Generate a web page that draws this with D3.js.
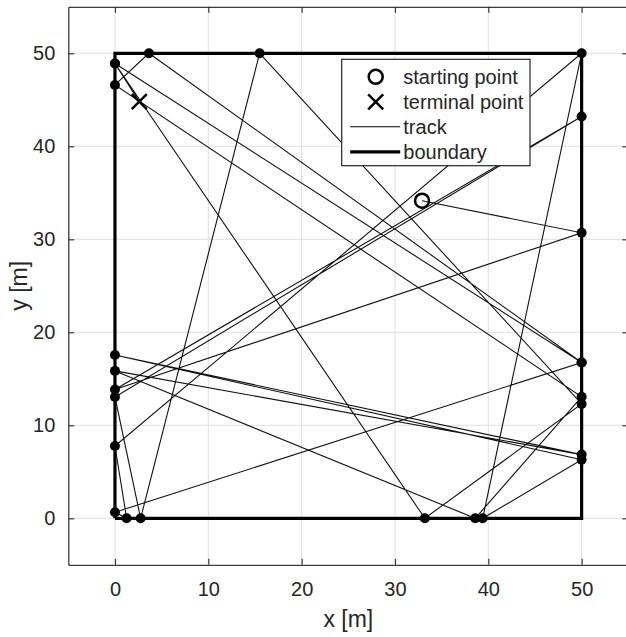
<!DOCTYPE html>
<html>
<head>
<meta charset="utf-8">
<script src="https://cdn.jsdelivr.net/npm/d3@7"></script>
<style>
    body { margin: 0; background: #fff; }
    text { font-family: "Liberation Sans", Arial, Helvetica, sans-serif; fill: #262626; }
</style>
</head>
<body>
<div id="chart"></div>
<script>
(function () {
    var width = 626,
        height = 637;

    // track in visiting order: start, wall hits, terminal
    var trackX = [32.9, 50, 0, 50, 0, 2.75, 15.5, 50, 33.2, 0, 50, 3.64, 0, 50, 38.6, 0, 50, 0, 50, 39.4, 50, 0, 1.25, 0, 50, 0, 2.6];
    var trackY = [34.15, 30.7, 13.85, 43.2, 13.05, 0, 50, 12.29, 0, 48.9, 16.75, 50, 46.6, 13.07, 0, 15.85, 6.85, 17.55, 6.3, 0, 50, 7.77, 0, 0.65, 16.75, 48.9, 44.8];

    var boundaryX = [0, 50, 50, 0, 0];
    var boundaryY = [0, 0, 50, 50, 0];

    var ticks = [0, 10, 20, 30, 40, 50];
    var legendLabels = ["starting point", "terminal point", "track", "boundary"];

    var track = trackX.map(function (d, i) { return { x: d, y: trackY[i] }; });
    var boundary = boundaryX.map(function (d, i) { return { x: d, y: boundaryY[i] }; });
    var hits = track.slice(1, track.length - 1);
    var start = track[0],
        end = track[track.length - 1];

    var left = 68.3, right = 628.3, top = 6.8, bottom = 564.8;

    var x = d3.scaleLinear().domain([-5, 55]).range([left, right]);
    var y = d3.scaleLinear().domain([-5, 55]).range([bottom, top]);

    var svg = d3.select("#chart")
        .append("svg")
        .attr("width", width)
        .attr("height", height);

    // grid
    var grid = svg.append("g").attr("stroke", "#dfdfdf").attr("stroke-width", 1);
    grid.selectAll(".gx").data(ticks).enter().append("line")
        .attr("x1", d => x(d)).attr("x2", d => x(d))
        .attr("y1", top).attr("y2", bottom);
    grid.selectAll(".gy").data(ticks).enter().append("line")
        .attr("y1", d => y(d)).attr("y2", d => y(d))
        .attr("x1", left).attr("x2", right);

    // axes, ticks pointing inward on every side
    function styleAxis(g) {
        g.select(".domain").attr("stroke", "#3a3a3a").attr("stroke-width", 1.3);
        g.selectAll(".tick line").attr("stroke", "#3a3a3a").attr("stroke-width", 1.2);
        g.selectAll(".tick text").attr("fill", "#262626").style("font-size", "20px");
    }

    svg.append("g")
        .attr("transform", "translate(0," + bottom + ")")
        .call(d3.axisBottom(x).tickValues(ticks).tickSize(-6).tickSizeOuter(0).tickPadding(17))
        .call(styleAxis);
    svg.append("g")
        .attr("transform", "translate(0," + top + ")")
        .call(d3.axisTop(x).tickValues(ticks).tickSize(-6).tickSizeOuter(0).tickFormat(""))
        .call(styleAxis);
    svg.append("g")
        .attr("transform", "translate(" + left + ",0)")
        .call(d3.axisLeft(y).tickValues(ticks).tickSize(-6).tickSizeOuter(0).tickPadding(13))
        .call(styleAxis);
    svg.append("g")
        .attr("transform", "translate(" + right + ",0)")
        .call(d3.axisRight(y).tickValues(ticks).tickSize(-6).tickSizeOuter(0).tickFormat(""))
        .call(styleAxis);

    svg.append("text")
        .attr("x", (left + right) / 2)
        .attr("y", 627)
        .attr("text-anchor", "middle")
        .style("font-size", "23px")
        .text("x [m]");

    svg.append("text")
        .attr("transform", "translate(27," + ((top + bottom) / 2) + ") rotate(-90)")
        .attr("text-anchor", "middle")
        .style("font-size", "23px")
        .text("y [m]");

    var line = d3.line().x(d => x(d.x)).y(d => y(d.y));

    // boundary
    svg.append("path")
        .datum(boundary)
        .attr("d", line)
        .attr("fill", "none")
        .attr("stroke", "#000")
        .attr("stroke-width", 3.2);

    // track
    svg.append("path")
        .datum(track)
        .attr("d", line)
        .attr("fill", "none")
        .attr("stroke", "#111")
        .attr("stroke-width", 1.1);

    // wall hits
    svg.selectAll(".hit")
        .data(hits)
        .enter().append("circle")
        .attr("class", "hit")
        .attr("cx", d => x(d.x))
        .attr("cy", d => y(d.y))
        .attr("r", 5)
        .attr("fill", "#000");

    function drawStart(g, cx, cy) {
        g.append("circle")
            .attr("cx", cx).attr("cy", cy).attr("r", 7)
            .attr("fill", "none").attr("stroke", "#000").attr("stroke-width", 2.5);
    }
    function drawEnd(g, cx, cy) {
        var s = 7.5;
        g.append("path")
            .attr("d", "M" + (cx - s) + "," + (cy - s) + "L" + (cx + s) + "," + (cy + s) +
                "M" + (cx - s) + "," + (cy + s) + "L" + (cx + s) + "," + (cy - s))
            .attr("stroke", "#000").attr("stroke-width", 2.5);
    }

    drawStart(svg, x(start.x), y(start.y));
    drawEnd(svg, x(end.x), y(end.y));

    // legend
    var lg = svg.append("g").attr("transform", "translate(341.7,59.3)");
    lg.append("rect")
        .attr("width", 188.3).attr("height", 106.4)
        .attr("fill", "#fff").attr("stroke", "#262626").attr("stroke-width", 1.2);

    var items = lg.selectAll(".legend")
        .data(legendLabels)
        .enter().append("g")
        .attr("class", "legend")
        .attr("transform", function (d, i) { return "translate(0," + (17.5 + i * 25) + ")"; });

    items.append("text")
        .attr("x", 61.6)
        .attr("dy", "0.35em")
        .style("font-size", "20px")
        .text(d => d);

    items.each(function (d, i) {
        var g = d3.select(this);
        if (i === 0) drawStart(g, 34, 0);
        if (i === 1) drawEnd(g, 34, 0);
        if (i >= 2) {
            g.append("line")
                .attr("x1", 8.5).attr("x2", 58.5)
                .attr("stroke", "#000")
                .attr("stroke-width", i === 2 ? 1.1 : 3.2);
        }
    });
})();
</script>
</body>
</html>
